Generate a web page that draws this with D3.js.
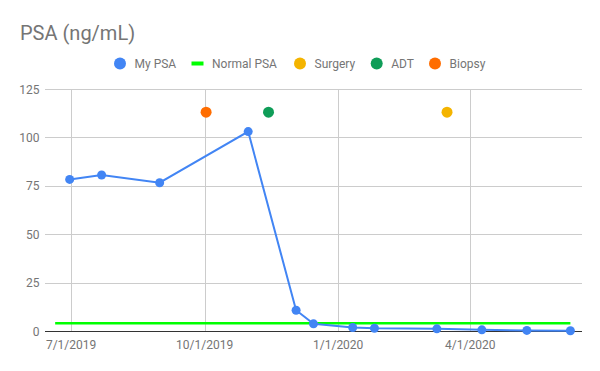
<!DOCTYPE html>
<html>
<head>
<meta charset="utf-8">
<script src="https://cdn.jsdelivr.net/npm/d3@7"></script>
<style>
  body { margin: 0; background: #fff; }
  text { font-family: Roboto, "Noto Sans", sans-serif; }
</style>
</head>
<body>
<svg id="chart" width="600" height="371"></svg>
<script>
// PSA readings
var psaDates = ["2019-06-30", "2019-07-22", "2019-08-31", "2019-10-31", "2019-12-03", "2019-12-15",
                "2020-01-11", "2020-01-26", "2020-03-09", "2020-04-09", "2020-05-10", "2020-06-09"];
var psaValues = [78.3, 80.6, 76.6, 103, 10.7, 3.7, 1.8, 1.4, 1.1, 0.6, 0.3, 0.1];

// normal PSA reference line
var normalDates = ["2019-06-20", "2020-06-09"];
var normalValues = [4, 4];

// events
var eventNames = ["Surgery", "ADT", "Biopsy"];
var eventDates = ["2020-03-16", "2019-11-14", "2019-10-02"];
var eventValues = [113, 113, 113];
var eventColors = ["#f4b400", "#0f9d58", "#ff6d00"];

var legendNames = ["My PSA", "Normal PSA", "Surgery", "ADT", "Biopsy"];
var xTicks = ["2019-07-01", "2019-10-01", "2020-01-01", "2020-04-01"];
var yTicks = [0, 25, 50, 75, 100, 125];
var xDomain = ["2019-06-13", "2020-06-17"];

(function () {
    var parse = d3.timeParse("%Y-%m-%d");
    var fmt = d3.timeFormat("%-m/%-d/%Y");

    var svg = d3.select("#chart");

    var plotLeft = 45, plotRight = 582, plotTop = 89, plotBottom = 331;

    var x = d3.scaleTime()
        .domain(xDomain.map(parse))
        .range([plotLeft, plotRight]);

    var y = d3.scaleLinear()
        .domain([0, 125])
        .range([plotBottom, plotTop]);

    // title
    svg.append("text")
        .attr("x", 20).attr("y", 40)
        .attr("font-size", 20)
        .attr("fill", "#757575")
        .text("PSA (ng/mL)");

    // gridlines
    svg.append("g")
        .selectAll("line")
        .data(yTicks.filter(d => d > 0))
        .join("line")
        .attr("x1", plotLeft).attr("x2", plotRight)
        .attr("y1", d => Math.round(y(d)) + 0.5).attr("y2", d => Math.round(y(d)) + 0.5)
        .attr("stroke", "#cccccc");

    svg.append("g")
        .selectAll("line")
        .data(xTicks.map(parse))
        .join("line")
        .attr("x1", d => Math.round(x(d)) + 0.5).attr("x2", d => Math.round(x(d)) + 0.5)
        .attr("y1", plotTop).attr("y2", plotBottom)
        .attr("stroke", "#cccccc");

    // y labels
    svg.append("g")
        .selectAll("text")
        .data(yTicks)
        .join("text")
        .attr("x", 39.5)
        .attr("y", d => y(d) + 4.5)
        .attr("text-anchor", "end")
        .attr("font-size", 12)
        .attr("fill", "#757575")
        .text(d => d);

    // x labels
    svg.append("g")
        .selectAll("text")
        .data(xTicks.map(parse))
        .join("text")
        .attr("x", d => x(d))
        .attr("y", 348.5)
        .attr("text-anchor", "middle")
        .attr("font-size", 12)
        .attr("fill", "#757575")
        .text(d => fmt(d));

    var line = d3.line()
        .x(d => x(d.date))
        .y(d => y(d.value));

    // normal PSA line
    var normal = normalDates.map((d, i) => ({ date: parse(d), value: normalValues[i] }));

    svg.append("path")
        .datum(normal)
        .attr("fill", "none")
        .attr("stroke", "#00ff00")
        .attr("stroke-width", 2.5)
        .attr("d", line);

    // baseline
    svg.append("line")
        .attr("x1", plotLeft).attr("x2", plotRight)
        .attr("y1", plotBottom + 0.5).attr("y2", plotBottom + 0.5)
        .attr("stroke", "#333333");

    // my PSA
    var psa = psaDates.map((d, i) => ({ date: parse(d), value: psaValues[i] }));

    svg.append("path")
        .datum(psa)
        .attr("fill", "none")
        .attr("stroke", "#4285f4")
        .attr("stroke-width", 2)
        .attr("d", line);

    svg.append("g")
        .selectAll("circle")
        .data(psa)
        .join("circle")
        .attr("cx", d => x(d.date))
        .attr("cy", d => y(d.value))
        .attr("r", 4.5)
        .attr("fill", "#4285f4");

    // events
    svg.append("g")
        .selectAll("circle")
        .data(eventNames)
        .join("circle")
        .attr("cx", (d, i) => x(parse(eventDates[i])))
        .attr("cy", (d, i) => y(eventValues[i]))
        .attr("r", 5.5)
        .attr("fill", (d, i) => eventColors[i]);

    // legend
    var legendX = [120, 197.5, 300, 376.7, 435];
    var legendColors = ["#4285f4", "#00ff00"].concat(eventColors);
    var legend = svg.append("g");

    legendNames.forEach(function (name, i) {
        if (i == 1) {
            legend.append("rect")
                .attr("x", legendX[i] - 6).attr("y", 61.5)
                .attr("width", 12).attr("height", 4)
                .attr("fill", legendColors[i]);
        } else {
            legend.append("circle")
                .attr("cx", legendX[i]).attr("cy", 63.5)
                .attr("r", 6)
                .attr("fill", legendColors[i]);
        }
        legend.append("text")
            .attr("x", legendX[i] + 14.5)
            .attr("y", 67.8)
            .attr("font-size", 12)
            .attr("fill", "#757575")
            .text(name);
    });
})();
</script>
</body>
</html>
